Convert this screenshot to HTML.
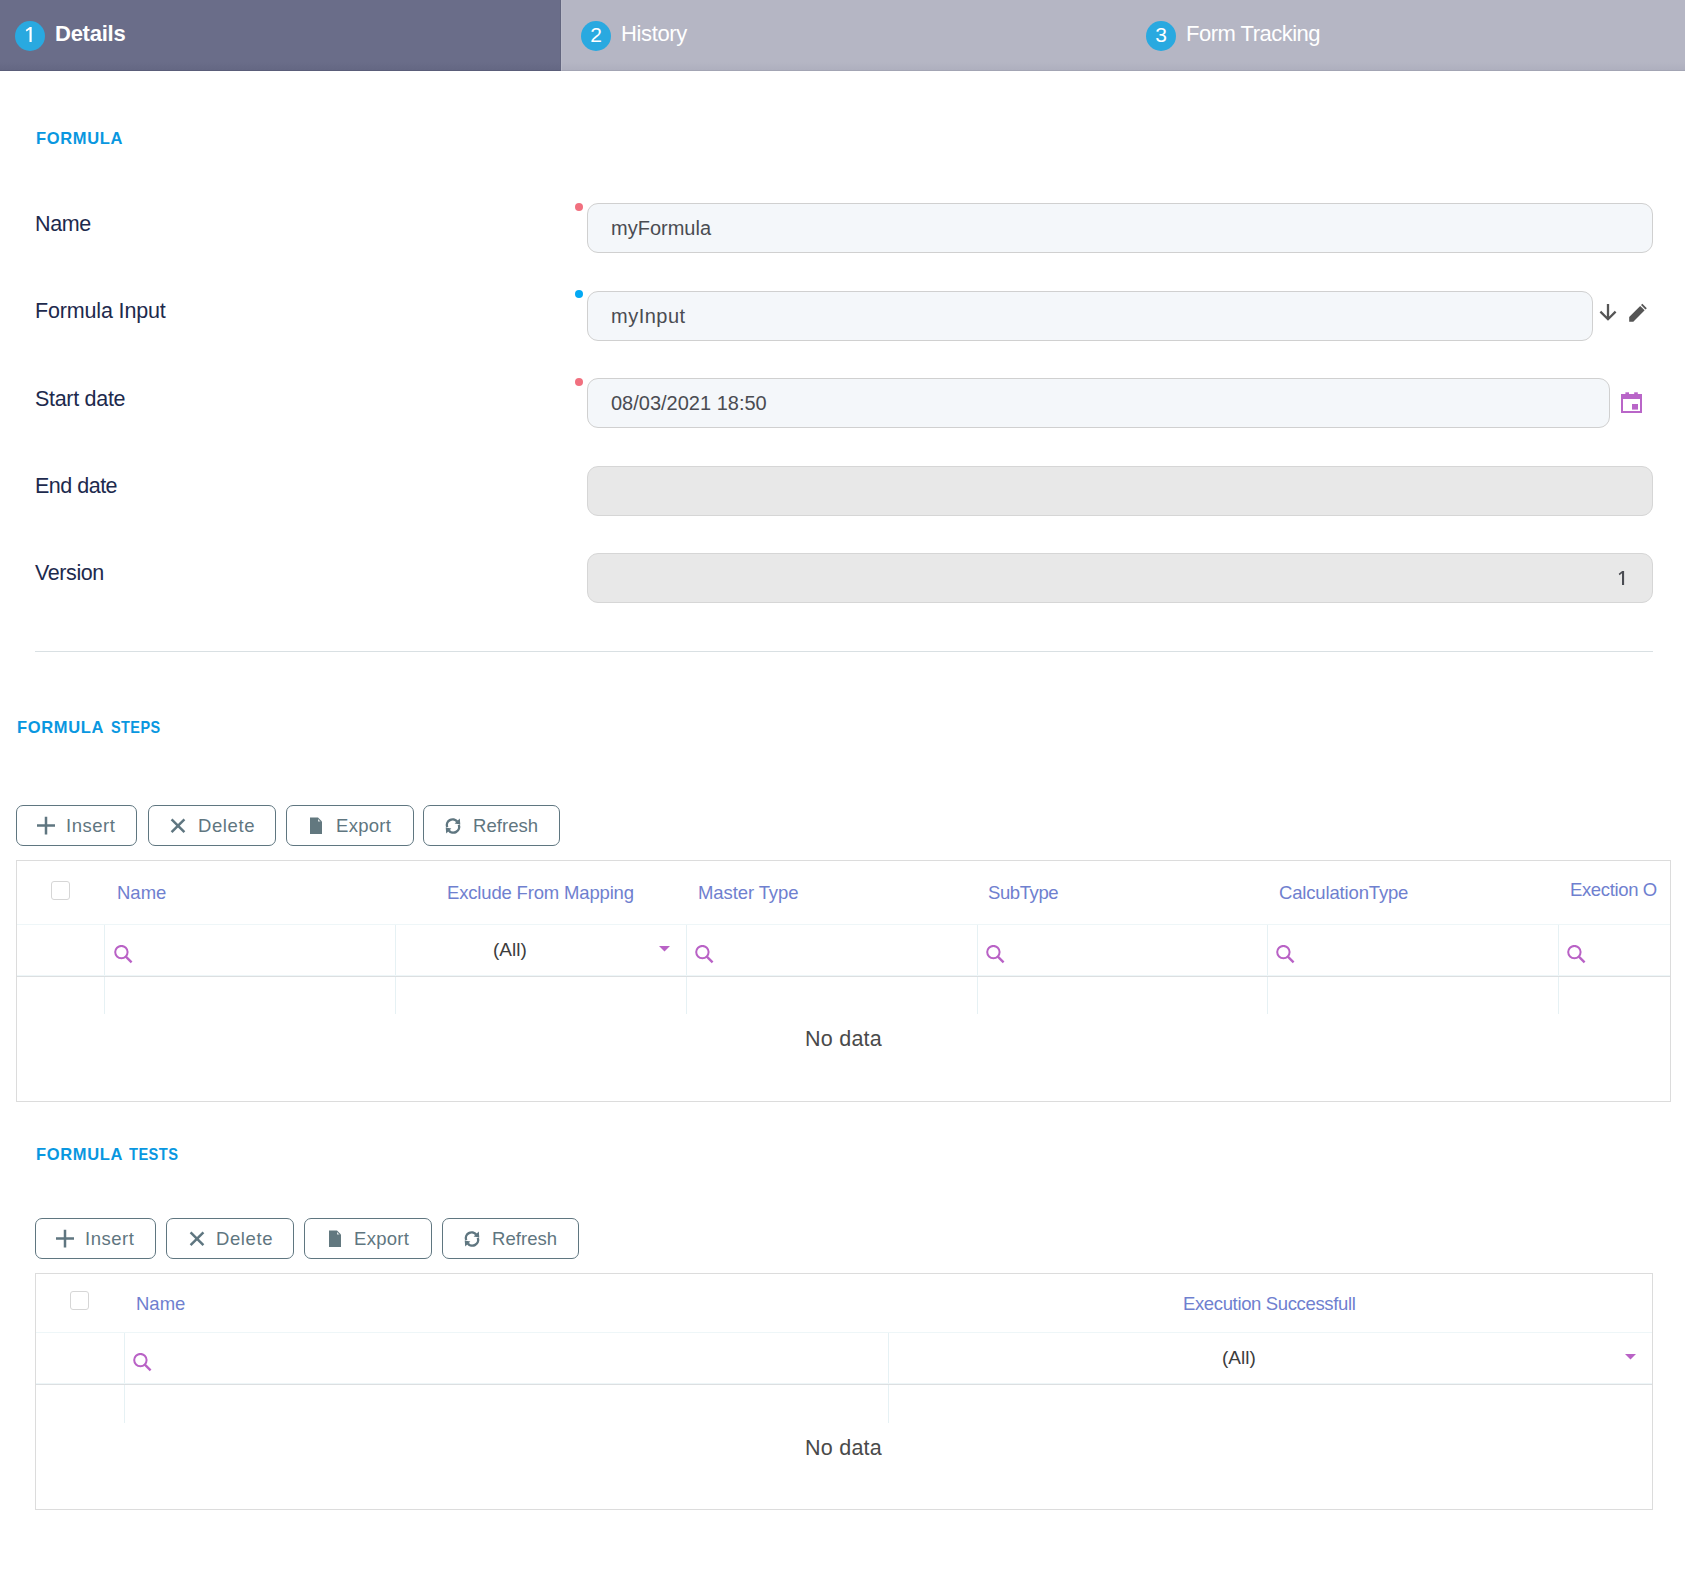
<!DOCTYPE html>
<html>
<head>
<meta charset="utf-8">
<style>
*{margin:0;padding:0;box-sizing:border-box}
html,body{width:1685px;height:1582px;background:#fff;overflow:hidden;position:relative;font-family:"Liberation Sans",sans-serif}
.a{position:absolute}
.t{position:absolute;white-space:pre;line-height:1}
/* tabs */
.tab{position:absolute;top:0;height:71px}
.circ{position:absolute;top:21px;width:30px;height:30px;border-radius:50%;background:#29a9e0;color:#fff;font-size:21px;line-height:28px;text-align:center}
.tabt{font-size:22px;color:#fff;top:23px}
/* headings */
.h{font-size:16.5px;font-weight:700;color:#0997e0;letter-spacing:0.65px}
.lbl{font-size:21.5px;color:#1d2a4d;left:35px}
.inp{position:absolute;left:587px;height:50px;border:1px solid #d0d0d0;border-radius:11px;background:#f4f7fa}
.inp.dis{background:#e8e8e8;border-color:#d6d6d6}
.val{font-size:20px;color:#4a4c52;left:611px}
.dot{position:absolute;left:575px;width:8px;height:8px;border-radius:50%}
.btn{position:absolute;height:41px;border:1px solid #5f7680;border-radius:7px;background:#fff}
.bt{font-size:18.5px;color:#5f7680;letter-spacing:0.6px}
.grid{position:absolute;border:1px solid #dcdcdc;background:#fff}
.hl{position:absolute;height:1px;background:#e6f1f4}
.vl{position:absolute;width:1px;background:#e6f1f4}
.gh{font-size:18.5px;color:#6f80cf}
.chk{position:absolute;width:19px;height:19px;border:1px solid #d6d6d6;border-radius:3px;background:#fff}
.nd{font-size:21px;color:#4a4a4a}
.all{font-size:19px;color:#3d3d3d}
</style>
</head>
<body>
<!-- TAB BAR -->
<div class="tab" style="left:0;width:561px;background:linear-gradient(#6a6d89 0,#6a6d89 62px,#646783 70px);border-bottom:1px solid #5a5d79;border-right:1px solid #63667f"></div>
<div class="tab" style="left:561px;width:1124px;background:linear-gradient(#b5b6c4 0,#b5b6c4 62px,#aeafbe 70px);border-bottom:1px solid #a3a5b4;border-left:1px solid #babbc9"></div>
<div class="circ" style="left:15px"></div><svg class="a" style="left:15px;top:21px" width="30" height="30" viewBox="15 21 30 30"><path fill="#fff" d="M31.7 27.1V41.9H29.5V29.6L26.6 31.5L25.7 30L29.8 27.1Z"/></svg>
<div class="t tabt" style="left:55px;font-weight:700;letter-spacing:-0.25px">Details</div>
<div class="circ" style="left:581px">2</div>
<div class="t tabt" style="left:621px;letter-spacing:-0.35px">History</div>
<div class="circ" style="left:1146px">3</div>
<div class="t tabt" style="left:1186px;letter-spacing:-0.5px">Form Tracking</div>

<!-- FORMULA -->
<div class="t h" style="left:36px;top:130px">FORMULA</div>

<div class="t lbl" style="top:214px;letter-spacing:-0.4px">Name</div>
<div class="dot" style="top:203px;background:#f1707f"></div>
<div class="inp" style="top:203px;width:1066px"></div>
<div class="t val" style="top:218px">myFormula</div>

<div class="t lbl" style="top:301px;letter-spacing:-0.15px">Formula Input</div>
<div class="dot" style="top:290px;background:#03a9f4"></div>
<div class="inp" style="top:291px;width:1006px"></div>
<div class="t val" style="top:306px;letter-spacing:0.5px">myInput</div>

<div class="t lbl" style="top:389px;letter-spacing:-0.3px">Start date</div>
<div class="dot" style="top:378px;background:#f1707f"></div>
<div class="inp" style="top:378px;width:1023px"></div>
<div class="t val" style="top:393px">08/03/2021 18:50</div>

<div class="t lbl" style="top:476px;letter-spacing:-0.5px">End date</div>
<div class="inp dis" style="top:466px;width:1066px"></div>

<div class="t lbl" style="top:563px;letter-spacing:-0.4px">Version</div>
<div class="inp dis" style="top:553px;width:1066px"></div>
<svg class="a" style="left:1615px;top:566px" width="14" height="22" viewBox="1615 566 14 22"><path fill="#4a4c52" d="M1624.1 570.9V584.9H1622V573.3L1619.5 575.2L1618.7 573.8L1622.2 570.9Z"/></svg>


<!-- field icons -->
<svg class="a" style="left:1595px;top:300px" width="25" height="25" viewBox="1595 300 25 25"><path fill="none" stroke="#555" stroke-width="2.3" d="M1608 304V319.5M1600.4 311.6L1608 319.2L1615.6 311.6"/></svg>
<svg class="a" style="left:1625px;top:300px" width="25" height="25" viewBox="1625 300 25 25"><path fill="#555" d="M1629.2 316.9L1640.2 305.9L1644.65 310.35L1633.3 321.7L1629.2 321.7Z"/><path fill="#555" d="M1641 305.1L1642.35 303.75L1646.8 308.2L1645.45 309.55Z"/></svg>
<svg class="a" style="left:1621px;top:392px" width="21" height="21" viewBox="0 0 21 21">
 <path fill="#b965c8" fill-rule="evenodd" d="M0 2H21V21H0ZM2 7V19H19V7Z"/>
 <rect x="4.4" y="0.3" width="3.6" height="2" fill="#b965c8"/>
 <rect x="13.2" y="0.3" width="3.6" height="2" fill="#b965c8"/>
 <rect x="11" y="12" width="6" height="5.6" fill="#b965c8"/>
</svg>
<div class="a" style="left:35px;top:651px;width:1618px;height:1px;background:#d9e0e3"></div>

<!-- FORMULA STEPS -->
<div class="t h" style="left:17px;top:719px">FORMULA</div><div class="t h" style="left:111px;top:719px;letter-spacing:0.5px;transform:scaleX(0.876);transform-origin:0 0">STEPS</div>

<div class="btn" style="left:16px;top:805px;width:121px"></div>
<div class="t bt" style="left:66px;top:817px;letter-spacing:0.5px">Insert</div>
<div class="btn" style="left:148px;top:805px;width:128px"></div>
<div class="t bt" style="left:198px;top:817px">Delete</div>
<div class="btn" style="left:286px;top:805px;width:128px"></div>
<div class="t bt" style="left:336px;top:817px;letter-spacing:0.3px">Export</div>
<div class="btn" style="left:423px;top:805px;width:137px"></div>
<div class="t bt" style="left:473px;top:817px;letter-spacing:0.05px">Refresh</div>


<svg class="a" style="left:37px;top:816px" width="18" height="19" viewBox="0 0 18 19"><path stroke="#5f7680" stroke-width="2.5" d="M0 9.5H18M9 0.8V18.5"/></svg>
<svg class="a" style="left:170px;top:818px" width="16" height="16" viewBox="0 0 16 16"><path stroke="#5f7680" stroke-width="2.5" d="M1.6 1.3L14.4 14.1M14.4 1.3L1.6 14.1"/></svg>
<svg class="a" style="left:309px;top:817px" width="14" height="18" viewBox="0 0 14 18"><path fill="#62787f" d="M1 0.5H9L13 4.5V17H1Z"/><path fill="#fff" opacity="0.8" d="M9 2L9 4.5H11.5Z"/></svg>
<svg class="a" style="left:444px;top:817px" width="18" height="18" viewBox="0 0 18 18">
 <path fill="none" stroke="#5f7680" stroke-width="2.4" d="M3.2 10.2A5.8 5.8 0 0 1 13.2 4.6"/>
 <path fill="#5f7680" d="M15.8 1.6L16.3 7.6L10.6 6.6Z"/>
 <path fill="none" stroke="#5f7680" stroke-width="2.4" d="M14.8 7.8A5.8 5.8 0 0 1 4.8 13.4"/>
 <path fill="#5f7680" d="M2.2 16.4L1.7 10.4L7.4 11.4Z"/>
</svg>
<div class="grid" style="left:16px;top:860px;width:1655px;height:242px"></div>
<div class="chk" style="left:51px;top:881px"></div>
<div class="t gh" style="left:117px;top:884px">Name</div>
<div class="t gh" style="left:447px;top:884px;letter-spacing:-0.17px">Exclude From Mapping</div>
<div class="t gh" style="left:698px;top:884px;letter-spacing:-0.1px">Master Type</div>
<div class="t gh" style="left:988px;top:884px;letter-spacing:-0.4px">SubType</div>
<div class="t gh" style="left:1279px;top:884px;letter-spacing:-0.16px">CalculationType</div>
<div class="t gh" style="left:1570px;top:881px;letter-spacing:-0.36px">Exection O</div>


<div class="hl" style="left:17px;top:924px;width:1653px;background:#eef6f8"></div>
<div class="hl" style="left:17px;top:975px;width:1653px;background:#eef6f8"></div>
<div class="hl" style="left:17px;top:976px;width:1653px;background:#dcdfe1"></div>
<div class="vl" style="left:104px;top:925px;height:50px"></div>
<div class="vl" style="left:104px;top:977px;height:37px"></div>
<div class="vl" style="left:395px;top:925px;height:50px"></div>
<div class="vl" style="left:395px;top:977px;height:37px"></div>
<div class="vl" style="left:686px;top:925px;height:50px"></div>
<div class="vl" style="left:686px;top:977px;height:37px"></div>
<div class="vl" style="left:977px;top:925px;height:50px"></div>
<div class="vl" style="left:977px;top:977px;height:37px"></div>
<div class="vl" style="left:1267px;top:925px;height:50px"></div>
<div class="vl" style="left:1267px;top:977px;height:37px"></div>
<div class="vl" style="left:1558px;top:925px;height:50px"></div>
<div class="vl" style="left:1558px;top:977px;height:37px"></div>
<svg class="a" style="left:114px;top:945px" width="20" height="20" viewBox="0 0 20 20"><circle cx="7.4" cy="7.1" r="6.2" fill="none" stroke="#b962c6" stroke-width="2"/><path stroke="#b962c6" stroke-width="2.4" d="M11.6 11.4L17.6 17.4"/></svg>
<svg class="a" style="left:695px;top:945px" width="20" height="20" viewBox="0 0 20 20"><circle cx="7.4" cy="7.1" r="6.2" fill="none" stroke="#b962c6" stroke-width="2"/><path stroke="#b962c6" stroke-width="2.4" d="M11.6 11.4L17.6 17.4"/></svg>
<svg class="a" style="left:986px;top:945px" width="20" height="20" viewBox="0 0 20 20"><circle cx="7.4" cy="7.1" r="6.2" fill="none" stroke="#b962c6" stroke-width="2"/><path stroke="#b962c6" stroke-width="2.4" d="M11.6 11.4L17.6 17.4"/></svg>
<svg class="a" style="left:1276px;top:945px" width="20" height="20" viewBox="0 0 20 20"><circle cx="7.4" cy="7.1" r="6.2" fill="none" stroke="#b962c6" stroke-width="2"/><path stroke="#b962c6" stroke-width="2.4" d="M11.6 11.4L17.6 17.4"/></svg>
<svg class="a" style="left:1567px;top:945px" width="20" height="20" viewBox="0 0 20 20"><circle cx="7.4" cy="7.1" r="6.2" fill="none" stroke="#b962c6" stroke-width="2"/><path stroke="#b962c6" stroke-width="2.4" d="M11.6 11.4L17.6 17.4"/></svg>
<div class="t all" style="left:493px;top:940px">(All)</div>
<svg class="a" style="left:659px;top:946px" width="11" height="6" viewBox="0 0 11 6"><path fill="#b962c6" d="M0 0H11L5.5 5.5Z"/></svg>
<div class="t nd" style="left:805px;top:1029px;letter-spacing:0.25px;font-size:21.5px">No data</div>

<!-- FORMULA TESTS -->
<div class="t h" style="left:36px;top:1146px">FORMULA</div><div class="t h" style="left:129px;top:1146px;letter-spacing:0.5px;transform:scaleX(0.888);transform-origin:0 0">TESTS</div>

<div class="btn" style="left:35px;top:1218px;width:121px"></div>
<div class="t bt" style="left:85px;top:1230px;letter-spacing:0.5px">Insert</div>
<div class="btn" style="left:166px;top:1218px;width:128px"></div>
<div class="t bt" style="left:216px;top:1230px">Delete</div>
<div class="btn" style="left:304px;top:1218px;width:128px"></div>
<div class="t bt" style="left:354px;top:1230px;letter-spacing:0.3px">Export</div>
<div class="btn" style="left:442px;top:1218px;width:137px"></div>
<div class="t bt" style="left:492px;top:1230px;letter-spacing:0.05px">Refresh</div>


<svg class="a" style="left:56px;top:1229px" width="18" height="19" viewBox="0 0 18 19"><path stroke="#5f7680" stroke-width="2.5" d="M0 9.5H18M9 0.8V18.5"/></svg>
<svg class="a" style="left:189px;top:1231px" width="16" height="16" viewBox="0 0 16 16"><path stroke="#5f7680" stroke-width="2.5" d="M1.6 1.3L14.4 14.1M14.4 1.3L1.6 14.1"/></svg>
<svg class="a" style="left:328px;top:1230px" width="14" height="18" viewBox="0 0 14 18"><path fill="#62787f" d="M1 0.5H9L13 4.5V17H1Z"/><path fill="#fff" opacity="0.8" d="M9 2L9 4.5H11.5Z"/></svg>
<svg class="a" style="left:463px;top:1230px" width="18" height="18" viewBox="0 0 18 18">
 <path fill="none" stroke="#5f7680" stroke-width="2.4" d="M3.2 10.2A5.8 5.8 0 0 1 13.2 4.6"/>
 <path fill="#5f7680" d="M15.8 1.6L16.3 7.6L10.6 6.6Z"/>
 <path fill="none" stroke="#5f7680" stroke-width="2.4" d="M14.8 7.8A5.8 5.8 0 0 1 4.8 13.4"/>
 <path fill="#5f7680" d="M2.2 16.4L1.7 10.4L7.4 11.4Z"/>
</svg>
<div class="grid" style="left:35px;top:1273px;width:1618px;height:237px"></div>
<div class="chk" style="left:70px;top:1291px"></div>
<div class="t gh" style="left:136px;top:1295px">Name</div>
<div class="t gh" style="left:1183px;top:1295px;letter-spacing:-0.36px">Execution Successfull</div>


<div class="hl" style="left:36px;top:1332px;width:1616px;background:#eef6f8"></div>
<div class="hl" style="left:36px;top:1383px;width:1616px;background:#eef6f8"></div>
<div class="hl" style="left:36px;top:1384px;width:1616px;background:#dcdfe1"></div>
<div class="vl" style="left:124px;top:1333px;height:50px"></div>
<div class="vl" style="left:124px;top:1385px;height:38px"></div>
<div class="vl" style="left:888px;top:1333px;height:50px"></div>
<div class="vl" style="left:888px;top:1385px;height:38px"></div>
<svg class="a" style="left:133px;top:1353px" width="20" height="20" viewBox="0 0 20 20"><circle cx="7.4" cy="7.1" r="6.2" fill="none" stroke="#b962c6" stroke-width="2"/><path stroke="#b962c6" stroke-width="2.4" d="M11.6 11.4L17.6 17.4"/></svg>
<div class="t all" style="left:1222px;top:1348px">(All)</div>
<svg class="a" style="left:1625px;top:1354px" width="11" height="6" viewBox="0 0 11 6"><path fill="#b962c6" d="M0 0H11L5.5 5.5Z"/></svg>
<div class="t nd" style="left:805px;top:1438px;letter-spacing:0.25px;font-size:21.5px">No data</div>
</body>
</html>
